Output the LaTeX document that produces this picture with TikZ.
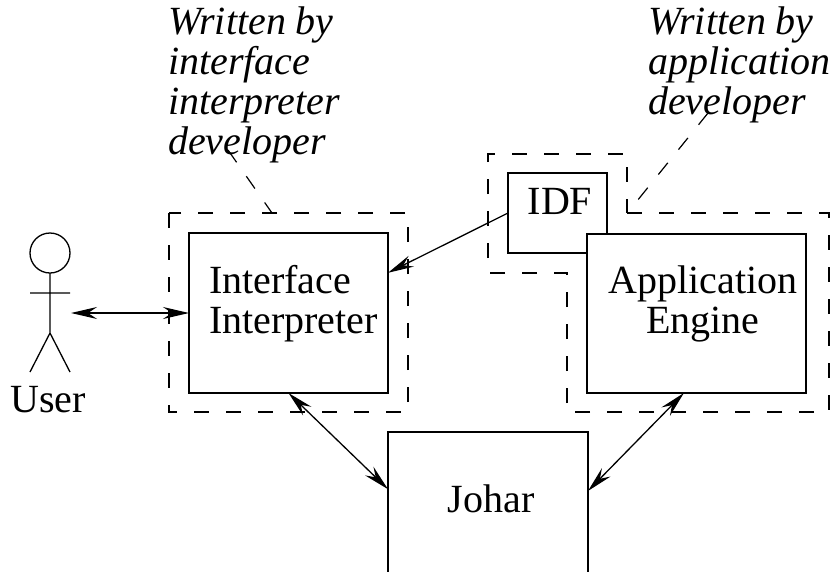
\documentclass[tikz,border=0pt]{standalone}
\usepackage{fontspec}
\setmainfont{Liberation Serif}
\usetikzlibrary{arrows.meta}
\tikzset{
  boxnode/.style={draw,line width=1.3pt,inner sep=0pt,outer sep=0pt},
  labelnode/.style={inner sep=0pt,anchor=base,align=center,font=\fontsize{40}{40}\selectfont},
  textnode/.style={inner sep=0pt,align=left,font=\fontsize{40}{40}\selectfont\itshape,anchor=base west},
  dashline/.style={line width=1.2pt,dash pattern=on 15pt off 17pt},
  conn/.style={line width=1.3pt,{Stealth[length=26pt,width=12pt,inset=9pt]}-{Stealth[length=26pt,width=12pt,inset=9pt]}},
  connone/.style={line width=1.3pt,-{Stealth[length=26pt,width=12pt,inset=9pt]}},
}
\begin{document}
\begin{tikzpicture}[x=1pt,y=-1pt]
  \useasboundingbox (0,0) rectangle (830,571);
  % dashed outlines
  \draw[dashline] (169,213) rectangle (408,412);
  \draw[dashline] (627,213) -- (829,213) -- (829,412) -- (567,412) -- (567,273) -- (488,273) -- (488,154) -- (627,154) -- cycle;
  % boxes
  \node[boxnode,minimum width=199,minimum height=160] (interp) at (288.5,313) {};
  \node[boxnode,fill=white,minimum width=99,minimum height=80] (idf) at (557.5,213) {};
  \node[boxnode,fill=white,minimum width=219,minimum height=159] (engine) at (696.5,313.5) {};
  \node[boxnode,minimum width=200,minimum height=146] (johar) at (488,505) {};
  \node[labelnode,align=left] (interptext) at (293.5,333) {Interface\\Interpreter};
  \node[labelnode] (idftext) at (560,214) {IDF};
  \node[labelnode] (enginetext) at (703,333) {Application\\Engine};
  \node[labelnode] (johartext) at (491,512) {Johar};
  % user
  \node[draw,circle,line width=1.3pt,minimum size=40,inner sep=0pt,outer sep=0pt] (head) at (50,253) {};
  \coordinate (waist) at (50,333);
  \coordinate (handl) at (30,293);
  \coordinate (handr) at (70,293);
  \coordinate (footl) at (30,372);
  \coordinate (footr) at (70,372);
  \draw[line width=1.3pt] (head.south) -- (waist) -- (footl) (waist) -- (footr) (handl) -- (handr);
  \node[labelnode] (user) at (48,412) {User};
  % connectors
  \coordinate (userarm) at (71,313);
  \draw[conn] (userarm) -- (interp.west);
  \draw[connone] (idf.west) -- (interp.22.4);
  \draw[conn] (interp.south) -- (johar.171.4);
  \draw[conn] (engine.261.8) -- (johar.8.6);
  % notes
  \node[textnode] (note1) at (168,154) {Written by\\interface\\interpreter\\developer};
  \node[textnode] (note2) at (648,114) {Written by\\application\\developer};
  \coordinate (note1a) at (228,150);
  \coordinate (note1b) at (272,213);
  \draw[dashline] (note1a) -- (note1b);
  \coordinate (note2a) at (708,113);
  \coordinate (note2b) at (637,201);
  \draw[dashline] (note2a) -- (note2b);
\end{tikzpicture}
\end{document}
